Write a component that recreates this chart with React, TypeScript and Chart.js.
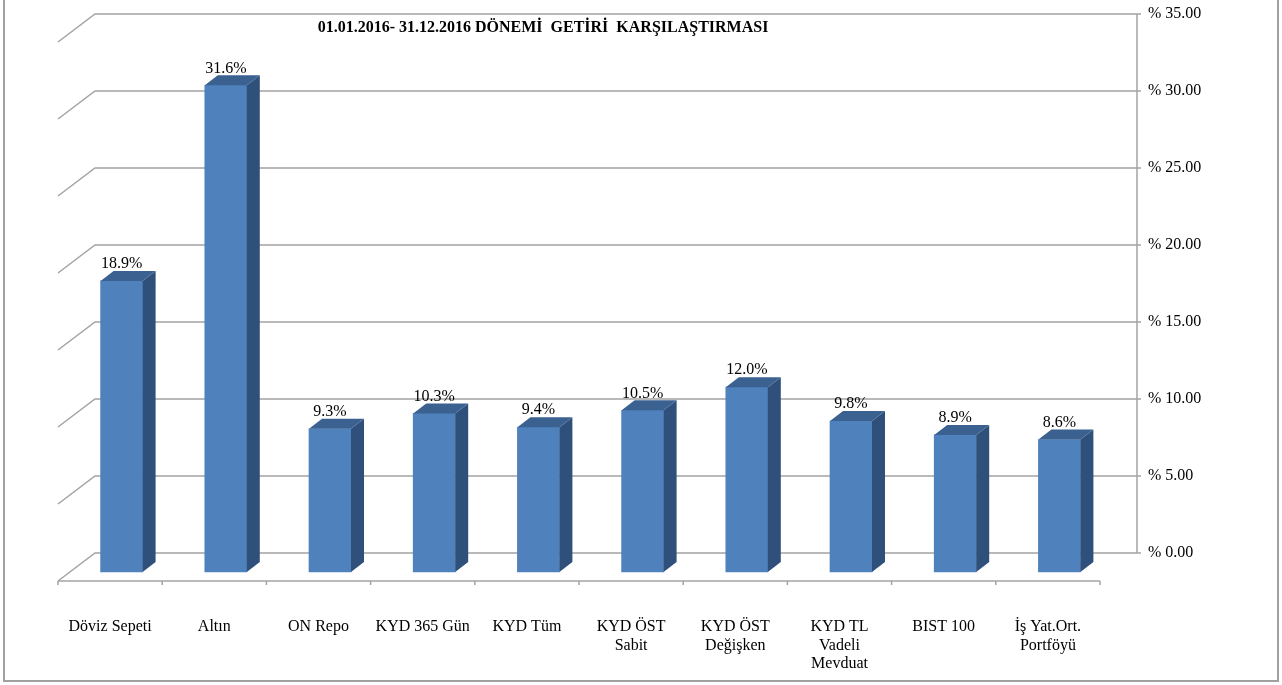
import React, { useEffect, useRef } from 'react';
import { Chart, registerables } from 'chart.js';

Chart.register(...registerables);

const categories: string[][] = [
  ['Döviz Sepeti'],
  ['Altın'],
  ['ON Repo'],
  ['KYD 365 Gün'],
  ['KYD Tüm'],
  ['KYD ÖST', 'Sabit'],
  ['KYD ÖST', 'Değişken'],
  ['KYD TL', 'Vadeli', 'Mevduat'],
  ['BIST 100'],
  ['İş Yat.Ort.', 'Portföyü'],
];
const returns: number[] = [18.9, 31.6, 9.3, 10.3, 9.4, 10.5, 12.0, 9.8, 8.9, 8.6];
const yMin = 0;
const yMax = 35;
const yStep = 5;
const chartTitle = '01.01.2016- 31.12.2016 DÖNEMİ  GETİRİ  KARŞILAŞTIRMASI';

const FONT = '"Liberation Serif", "Times New Roman", serif';
const GRID = '#a3a3a3';
const BACK = { dx: 37, dy: -28 };
const SHIFT = { dx: 11.5, dy: 19 };
const BOX = { dx: 13, dy: -10 };

const threeD = {
  id: 'threeD',
  beforeDatasetsDraw(chart: any) {
    const { ctx, chartArea } = chart;
    const ys = chart.scales.y;
    const left = chartArea.left;
    const right = chartArea.right;
    ctx.save();
    ctx.strokeStyle = GRID;
    ctx.lineWidth = 1.5;
    ys.ticks.forEach((t: any) => {
      const y = ys.getPixelForValue(t.value);
      ctx.beginPath();
      ctx.moveTo(left, y - BACK.dy);
      ctx.lineTo(left + BACK.dx, y);
      ctx.lineTo(right + BACK.dx, y);
      ctx.stroke();
      ctx.beginPath();
      ctx.moveTo(right + BACK.dx, y);
      ctx.lineTo(right + BACK.dx + 4, y);
      ctx.stroke();
    });
    ctx.beginPath();
    ctx.moveTo(right + BACK.dx, ys.getPixelForValue(yMax));
    ctx.lineTo(right + BACK.dx, ys.getPixelForValue(yMin));
    ctx.stroke();
    const fy = ys.getPixelForValue(yMin) - BACK.dy;
    ctx.beginPath();
    ctx.moveTo(left, fy);
    ctx.lineTo(right, fy);
    ctx.stroke();
    const n = categories.length;
    const w = (right - left) / n;
    for (let i = 0; i <= n; i++) {
      const x = left + w * i;
      ctx.beginPath();
      ctx.moveTo(x, fy);
      ctx.lineTo(x, fy + 4);
      ctx.stroke();
    }
    ctx.restore();
    ctx.save();
    ctx.translate(SHIFT.dx, SHIFT.dy);
  },
  afterDatasetsDraw(chart: any) {
    const { ctx } = chart;
    ctx.restore();
    const meta = chart.getDatasetMeta(0);
    ctx.save();
    meta.data.forEach((el: any, i: number) => {
      const p = el.getProps(['x', 'y', 'base', 'width'], true);
      const x0 = p.x - p.width / 2 + SHIFT.dx;
      const x1 = p.x + p.width / 2 + SHIFT.dx;
      const top = p.y + SHIFT.dy;
      const bot = p.base + SHIFT.dy;
      ctx.fillStyle = '#30507c';
      ctx.beginPath();
      ctx.moveTo(x1, top);
      ctx.lineTo(x1 + BOX.dx, top + BOX.dy);
      ctx.lineTo(x1 + BOX.dx, bot + BOX.dy);
      ctx.lineTo(x1, bot);
      ctx.closePath();
      ctx.fill();
      ctx.fillStyle = '#3b6191';
      ctx.beginPath();
      ctx.moveTo(x0, top);
      ctx.lineTo(x0 + BOX.dx, top + BOX.dy);
      ctx.lineTo(x1 + BOX.dx, top + BOX.dy);
      ctx.lineTo(x1, top);
      ctx.closePath();
      ctx.fill();
      ctx.fillStyle = '#000';
      ctx.font = `16px ${FONT}`;
      ctx.textAlign = 'center';
      ctx.textBaseline = 'middle';
      ctx.fillText(`${returns[i].toFixed(1)}%`, (x0 + x1) / 2, top - 17);
    });
    ctx.restore();
  },
  afterDraw(chart: any) {
    const { ctx } = chart;
    ctx.save();
    ctx.fillStyle = '#000';
    ctx.font = `bold 16px ${FONT}`;
    ctx.textAlign = 'center';
    ctx.textBaseline = 'middle';
    ctx.fillText(chartTitle, 543, 28);
    ctx.strokeStyle = '#a0a0a0';
    ctx.lineWidth = 2;
    ctx.strokeRect(4, -2, 1274, 683);
    ctx.restore();
  },
};

export default function App() {
  const ref = useRef<HTMLCanvasElement | null>(null);
  useEffect(() => {
    if (!ref.current) return;
    const chart = new Chart(ref.current, {
      type: 'bar',
      data: {
        labels: categories,
        datasets: [
          {
            data: returns,
            backgroundColor: '#4f81bd',
            borderWidth: 0,
            barThickness: 42,
            clip: false as any,
          },
        ],
      },
      options: {
        animation: false,
        responsive: false,
        devicePixelRatio: 1,
        layout: { padding: { left: 58, top: 14, right: 0, bottom: 0 } },
        plugins: {
          legend: { display: false },
          title: { display: false },
          tooltip: { enabled: false },
        },
        scales: {
          x: {
            grid: { display: false, drawTicks: false },
            border: { display: false },
            ticks: {
              autoSkip: false,
              maxRotation: 0,
              minRotation: 0,
              padding: 65,
              color: '#000',
              font: { family: FONT, size: 16, lineHeight: 1.15 },
            },
            afterFit: (s: any) => {
              s.height = 132;
              s.paddingLeft = 0;
              s.paddingRight = 0;
            },
          },
          y: {
            position: 'right',
            min: yMin,
            max: yMax,
            grid: { display: false, drawTicks: false },
            border: { display: false },
            ticks: {
              stepSize: yStep,
              padding: 48,
              color: '#000',
              font: { family: FONT, size: 16 },
              callback: (v: any) => `% ${Number(v).toFixed(2)}`,
            },
            afterFit: (s: any) => {
              s.width = 182;
              s.paddingTop = 0;
              s.paddingBottom = 0;
            },
          },
        },
      },
      plugins: [threeD],
    });
    return () => chart.destroy();
  }, []);
  return (
    <div style={{ position: 'fixed', left: 0, top: 0, width: 1282, height: 685, background: '#fff' }}>
      <canvas ref={ref} width={1282} height={685} style={{ display: 'block' }} />
    </div>
  );
}
